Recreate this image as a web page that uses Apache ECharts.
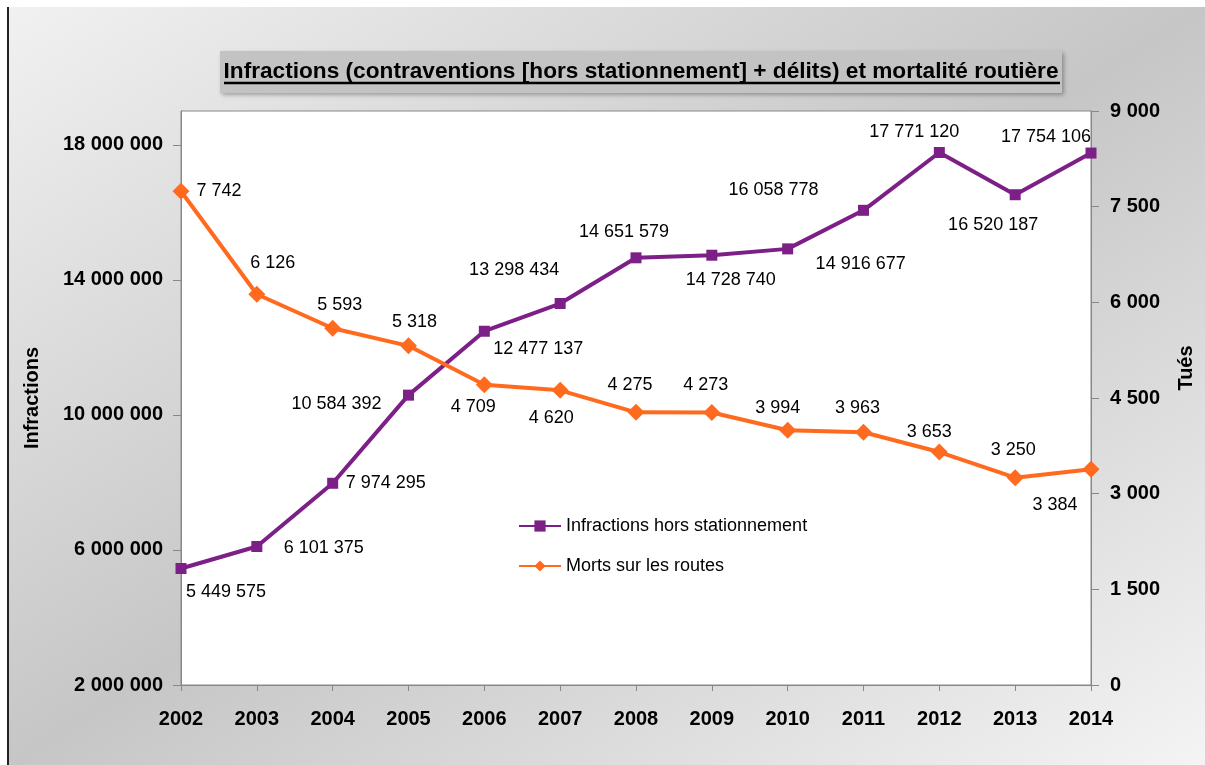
<!DOCTYPE html>
<html>
<head>
<meta charset="utf-8">
<script src="https://cdn.jsdelivr.net/npm/echarts@6/dist/echarts.min.js"></script>
<style>
  html, body { margin: 0; padding: 0; background: #fff; }
  #edge { position: absolute; left: 7px; top: 7px; width: 2px; height: 758px; background: #222; }
  #main {
    position: absolute; left: 9px; top: 7px; width: 1196px; height: 758px;
    background: linear-gradient(to bottom right, #f1f1f1 0%, #c6c6c6 50%, #f4f4f4 100%);
  }
</style>
</head>
<body>
<div id="edge"></div>
<div id="main"></div>
<script>
// data
const years = ['2002', '2003', '2004', '2005', '2006', '2007', '2008', '2009', '2010', '2011', '2012', '2013', '2014'];
const infractions = [5449575, 6101375, 7974295, 10584392, 12477137, 13298434, 14651579, 14728740, 14916677, 16058778, 17771120, 16520187, 17754106];
const morts = [7742, 6126, 5593, 5318, 4709, 4620, 4275, 4273, 3994, 3963, 3653, 3250, 3384];
const leftTicks = [2000000, 6000000, 10000000, 14000000, 18000000];

// label placement (offset of label centre from the point)
const infOffsets = [[45, 24], [67, 2], [53, 0], [-72, 9], [54, 18], [-46, -33], [-12, -26], [19, 25], [73, 15], [-90, -20], [-25, -20], [-22, 30], [-45, -16]];
const mortsOffsets = [[38, 0], [16, -31], [7, -23], [6, -24], [-11, 22], [-9, 28], [-6, -27], [-6, -27], [-10, -22], [-6, -24], [-10, -20], [-2, -28], [-36, 36]];

const FONT = '"Liberation Sans", Arial, Helvetica, sans-serif';
const PURPLE = '#7c1f87';
const ORANGE = '#ff6a1f';
const TITLE = 'Infractions (contraventions [hors stationnement] + délits) et mortalité routière';

function fmt(n) {
    return String(n).replace(/\B(?=(\d{3})+(?!\d))/g, ' ');
}

// squeeze the title to the width it has in the picture
const ctx = document.createElement('canvas').getContext('2d');
ctx.font = 'bold 22px ' + FONT;
const titleScale = 835 / ctx.measureText(TITLE).width;

const chart = echarts.init(document.getElementById('main'));

const labelBase = {
    show: true,
    position: 'inside',
    color: '#000',
    fontSize: 18,
    fontFamily: FONT,
    textBorderWidth: 0,
    formatter: function (p) { return fmt(p.value); }
};

const axisName = { color: '#000', fontSize: 20, fontWeight: 'bold', fontFamily: FONT };
const axisLab = { color: '#000', fontSize: 20, fontWeight: 'bold', fontFamily: FONT };

const option = {
    backgroundColor: 'transparent',
    animation: false,
    textStyle: { fontFamily: FONT },
    grid: {
        left: 172, top: 104, width: 910, height: 574,
        show: true, backgroundColor: '#fff', borderColor: '#888', borderWidth: 1
    },
    graphic: [{
        type: 'rect',
        shape: { x: 211, y: 44, width: 842, height: 42 },
        style: {
            fill: '#c3c3c3',
            shadowBlur: 4, shadowColor: 'rgba(0,0,0,0.3)', shadowOffsetX: 2, shadowOffsetY: 2
        },
        z: 10
    }, {
        type: 'text',
        x: 632, y: 65,
        scaleX: titleScale,
        style: {
            text: TITLE, align: 'center', verticalAlign: 'middle',
            font: 'bold 22px ' + FONT, fill: '#000'
        },
        z: 11
    }, {
        type: 'line',
        shape: { x1: 215, y1: 76, x2: 1051, y2: 76 },
        style: { stroke: '#000', lineWidth: 2.5 },
        z: 11
    }],
    legend: {
        orient: 'vertical',
        left: 504, top: 505,
        itemWidth: 42, itemHeight: 14, itemGap: 22,
        textStyle: { color: '#000', fontSize: 18, fontFamily: FONT },
        data: ['Infractions hors stationnement', 'Morts sur les routes']
    },
    xAxis: {
        type: 'category',
        data: years,
        boundaryGap: false,
        axisLine: { lineStyle: { color: '#888' } },
        axisTick: { show: true, length: 6, lineStyle: { color: '#888' } },
        axisLabel: Object.assign({ margin: 24 }, axisLab),
        splitLine: { show: false }
    },
    yAxis: [{
        type: 'value',
        position: 'left',
        min: 2000000, max: 19000000,
        name: 'Infractions', nameLocation: 'middle', nameRotate: 90, nameGap: 139,
        nameTextStyle: axisName,
        axisLine: { show: true, lineStyle: { color: '#888' } },
        axisTick: { show: true, length: 8, customValues: leftTicks, lineStyle: { color: '#888' } },
        axisLabel: Object.assign({ margin: 18, customValues: leftTicks, formatter: fmt }, axisLab),
        splitLine: { show: false }
    }, {
        type: 'value',
        position: 'right',
        min: 0, max: 9000, interval: 1500,
        name: 'Tués', nameLocation: 'middle', nameRotate: 90, nameGap: 85,
        nameTextStyle: Object.assign({ padding: [0, 0, 0, 60] }, axisName),
        axisLine: { show: true, lineStyle: { color: '#888' } },
        axisTick: { show: true, length: 8, lineStyle: { color: '#888' } },
        axisLabel: Object.assign({ margin: 19, formatter: fmt }, axisLab),
        splitLine: { show: false }
    }],
    series: [{
        name: 'Infractions hors stationnement',
        type: 'line',
        yAxisIndex: 0,
        symbol: 'rect',
        symbolSize: 11,
        lineStyle: { width: 4, color: PURPLE },
        itemStyle: { color: PURPLE },
        label: labelBase,
        data: infractions.map(function (v, i) {
            return { value: v, label: { offset: infOffsets[i] } };
        })
    }, {
        name: 'Morts sur les routes',
        type: 'line',
        yAxisIndex: 1,
        symbol: 'diamond',
        symbolSize: 17,
        lineStyle: { width: 4, color: ORANGE },
        itemStyle: { color: ORANGE },
        label: labelBase,
        data: morts.map(function (v, i) {
            return { value: v, label: { offset: mortsOffsets[i] } };
        })
    }]
};

option && chart.setOption(option);
</script>
</body>
</html>
